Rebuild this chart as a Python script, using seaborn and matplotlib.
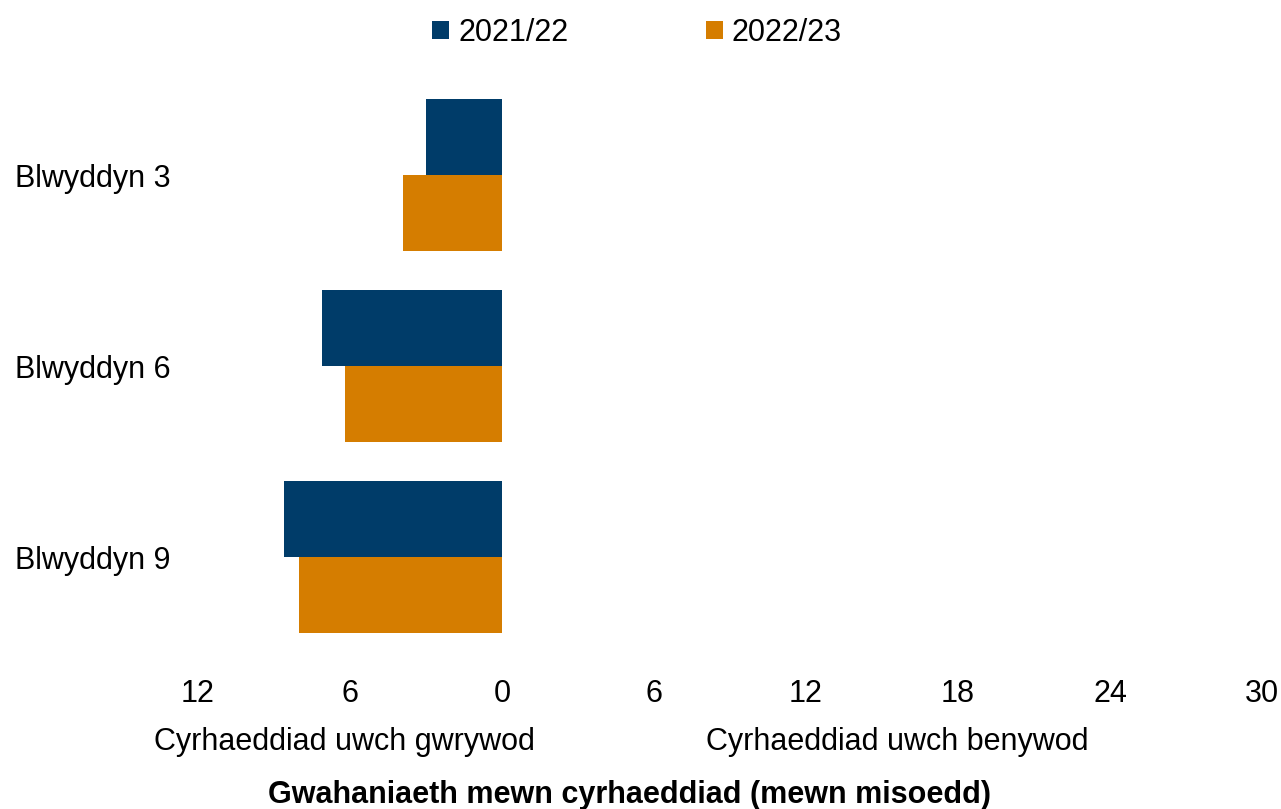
import numpy as np
import pandas as pd
import matplotlib
matplotlib.use("Agg")
import matplotlib.pyplot as plt
import seaborn as sns

sns.set_style("white")
plt.rcParams['font.family'] = ['Liberation Sans', 'DejaVu Sans']
plt.rcParams['text.color'] = 'black'
plt.rcParams['xtick.color'] = 'black'
plt.rcParams['ytick.color'] = 'black'

# data (months, negative = boys ahead)
groups = ["Blwyddyn 3", "Blwyddyn 6", "Blwyddyn 9"]
years = ["2021/22", "2022/23"]
gap_2021 = [-3.0, -7.1, -8.6]
gap_2022 = [-3.9, -6.2, -8.0]
x_ticks = [-12, -6, 0, 6, 12, 18, 24, 30]

df = pd.DataFrame({
    "grwp": groups * 2,
    "blwyddyn": [years[0]] * 3 + [years[1]] * 3,
    "bwlch": gap_2021 + gap_2022,
})

colours = {"2021/22": "#003C69", "2022/23": "#D57D00"}
fs = 22

fig = plt.figure(figsize=(12.81, 8.09), dpi=100)
ax = fig.add_axes([0.1546, 0.1934, 0.8306, 0.7083])

sns.barplot(data=df, x="bwlch", y="grwp", hue="blwyddyn", palette=colours,
            orient="h", width=0.8, saturation=1, linewidth=0, ax=ax, legend=True)

ax.set_xlim(-12, 30)
ax.set_xticks(x_ticks)
ax.set_xticklabels([str(abs(t)) for t in x_ticks])
ax.set_xlabel("")
ax.set_ylabel("")
ax.tick_params(axis="both", length=0, labelsize=fs)
ax.tick_params(axis="x", pad=19)
ax.tick_params(axis="y", pad=20)
for s in ax.spines.values():
    s.set_visible(False)

handles, labels = ax.get_legend_handles_labels()
ax.get_legend().remove()
fig.legend(handles, labels, loc="center", bbox_to_anchor=(637 / 1281, 1 - 33 / 809),
           ncol=2, frameon=False, fontsize=fs, handlelength=0.55, handleheight=0.55,
           handletextpad=0.3, columnspacing=4.5)

fig.text(344 / 1281, 1 - 742 / 809, "Cyrhaeddiad uwch gwrywod", ha="center", va="center",
         fontsize=fs)
fig.text(897 / 1281, 1 - 742 / 809, "Cyrhaeddiad uwch benywod", ha="center", va="center",
         fontsize=fs)
fig.text(630 / 1281, 1 - 795 / 809, "Gwahaniaeth mewn cyrhaeddiad (mewn misoedd)",
         ha="center", va="center", fontsize=fs, fontweight="bold")

fig.savefig("out.png", dpi=100)
